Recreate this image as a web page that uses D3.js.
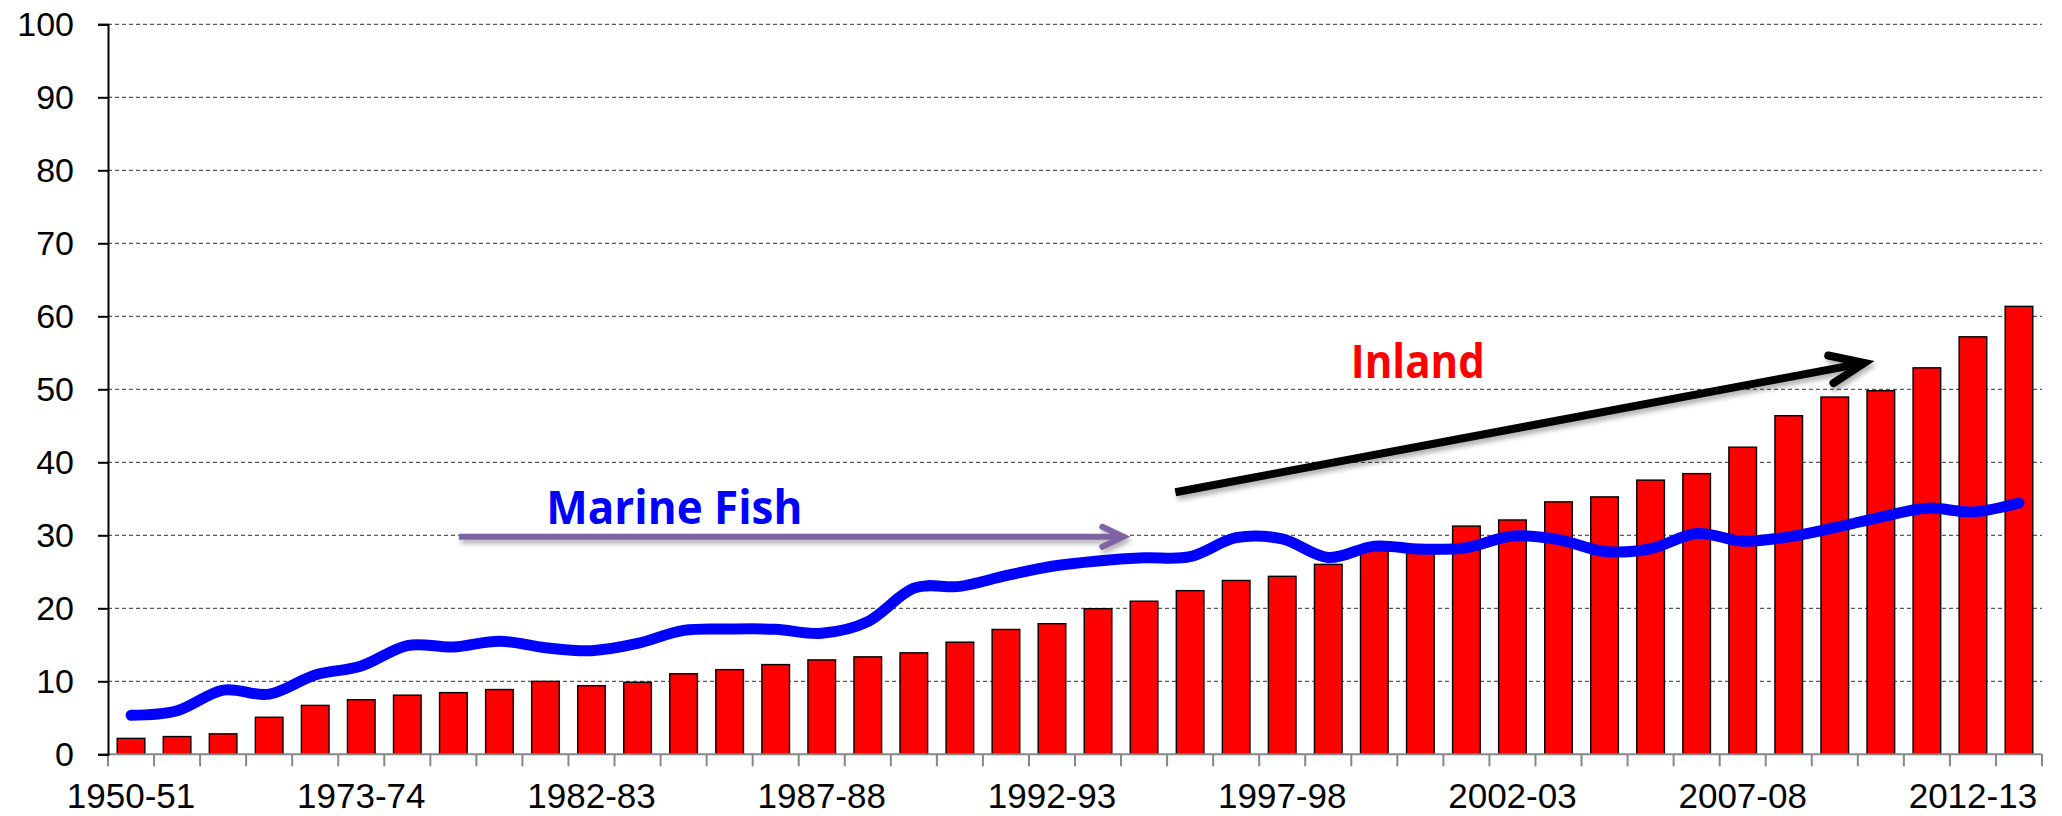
<!DOCTYPE html>
<html>
<head>
<meta charset="utf-8">
<script src="https://cdn.jsdelivr.net/npm/d3@7"></script>
<style>
  html, body { margin: 0; padding: 0; background: #ffffff; }
  #container { width: 2062px; height: 816px; }
</style>
</head>
<body>
<div id="container"></div>
<script>
const chartWidth = 2062
const chartHeight = 816

const GRAPH_ELEMENT_NAME = "container";

// Years (categories)
const years = [
    "1950-51", "1955-56", "1960-61", "1965-66", "1970-71", "1973-74",
    "1978-79", "1979-80", "1980-81", "1981-82", "1982-83", "1983-84",
    "1984-85", "1985-86", "1986-87", "1987-88", "1988-89", "1989-90",
    "1990-91", "1991-92", "1992-93", "1993-94", "1994-95", "1995-96",
    "1996-97", "1997-98", "1998-99", "1999-00", "2000-01", "2001-02",
    "2002-03", "2003-04", "2004-05", "2005-06", "2006-07", "2007-08",
    "2008-09", "2009-10", "2010-11", "2011-12", "2012-13", "2013-14"
];

// Inland production (bars)
const inland = [
    2.18, 2.43, 2.80, 5.07, 6.70, 7.48,
    8.10, 8.45, 8.87, 9.99, 9.40, 9.87,
    11.03, 11.60, 12.29, 12.93, 13.35, 13.90,
    15.36, 17.10, 17.89, 19.95, 20.97, 22.42,
    23.81, 24.38, 26.02, 28.23, 28.45, 31.26,
    32.10, 34.58, 35.26, 37.56, 38.45, 42.07,
    46.38, 48.94, 49.81, 52.94, 57.19, 61.36
];

// Marine fish production (smoothed line)
const marine = [
    5.34, 5.96, 8.80, 8.24, 10.86, 12.10,
    14.90, 14.70, 15.50, 14.60, 14.20, 15.19,
    16.98, 17.16, 17.13, 16.58, 18.17, 22.75,
    23.00, 24.47, 25.76, 26.49, 26.92, 27.07,
    29.67, 29.50, 26.96, 28.52, 28.11, 28.30,
    29.90, 29.41, 27.79, 28.16, 30.24, 29.20,
    29.78, 31.04, 32.50, 33.72, 33.21, 34.43
];

// Y axis ticks and labelled categories
const yTicks = [0, 10, 20, 30, 40, 50, 60, 70, 80, 90, 100];
const xLabels = ["1950-51", "1973-74", "1982-83", "1987-88", "1992-93",
                 "1997-98", "2002-03", "2007-08", "2012-13"];

// Annotations, in (category index, value) units
const marineArrow = [[7.62, 29.8], [22.05, 29.8]];
const inlandArrow = [[23.18, 35.9], [38.14, 53.6]];
const annotationText = [
    { text: "Marine Fish", at: [9.52, 31.5], color: "#0000ff", len: 256 },
    { text: "Inland", at: [26.99, 51.6], color: "#ff0000", len: 134 }
];

function drawChart()
{
    // Set dimensions and margins
    var margin = { top: 24.3, right: 20, bottom: 61.7, left: 108 },
        width = chartWidth - margin.left - margin.right,
        height = chartHeight - margin.top - margin.bottom;

    var root = d3.select("#" + GRAPH_ELEMENT_NAME)
        .append("svg")
        .attr("width", chartWidth)
        .attr("height", chartHeight)
        .style("display", "block");

    // Soft shadow for the hand-drawn arrows
    var defs = root.append("defs");
    defs.append("filter")
        .attr("id", "shadow")
        .attr("x", "-20%").attr("y", "-50%")
        .attr("width", "140%").attr("height", "200%")
        .append("feDropShadow")
        .attr("dx", 2).attr("dy", 4)
        .attr("stdDeviation", 2.5)
        .attr("flood-color", "#000")
        .attr("flood-opacity", 0.3);

    var svg = root.append("g")
        .attr("transform", "translate(" + margin.left + "," + margin.top + ")");

    // Scales
    var x = d3.scaleBand()
        .domain(years)
        .range([0, width])
        .paddingInner(0.4)
        .paddingOuter(0.2);

    var xi = d3.scaleLinear()
        .domain([0, years.length])
        .range([0, width]);

    var y = d3.scaleLinear()
        .domain([0, 100])
        .range([height, 0]);

    // Dashed gridlines
    svg.append("g")
        .selectAll("line")
        .data(yTicks.filter(d => d > 0))
        .join("line")
        .attr("x1", 0)
        .attr("x2", width)
        .attr("y1", d => y(d))
        .attr("y2", d => y(d))
        .attr("stroke", "#595959")
        .attr("stroke-width", 1.3)
        .attr("stroke-dasharray", "4,3");

    // Bars (inland)
    svg.append("g")
        .selectAll("rect")
        .data(inland)
        .join("rect")
        .attr("x", (d, i) => x(years[i]))
        .attr("y", d => y(d))
        .attr("width", x.bandwidth())
        .attr("height", d => height - y(d))
        .attr("fill", "#ff0000")
        .attr("stroke", "#000000")
        .attr("stroke-width", 1.4);

    // X axis (grey, ticks between categories)
    var xAxis = svg.append("g")
        .attr("transform", "translate(0," + height + ")");
    xAxis.append("line")
        .attr("x1", 0).attr("x2", width)
        .attr("y1", 0).attr("y2", 0)
        .attr("stroke", "#868686")
        .attr("stroke-width", 2);
    xAxis.selectAll(".xtick")
        .data(d3.range(years.length + 1))
        .join("line")
        .attr("class", "xtick")
        .attr("x1", d => xi(d)).attr("x2", d => xi(d))
        .attr("y1", 0).attr("y2", 12)
        .attr("stroke", "#868686")
        .attr("stroke-width", 2);
    xAxis.selectAll(".xlabel")
        .data(xLabels)
        .join("text")
        .attr("class", "xlabel")
        .attr("x", d => x(d) + x.bandwidth() / 2)
        .attr("y", 54)
        .attr("text-anchor", "middle")
        .style("font-family", "'Liberation Sans', Arial, sans-serif")
        .style("font-size", "35px")
        .attr("fill", "#000")
        .text(d => d);

    // Y axis
    svg.append("g")
        .call(d3.axisLeft(y).tickValues(yTicks).tickSize(10).tickPadding(24))
        .call(g => g.select(".domain").attr("stroke", "#000").attr("stroke-width", 2))
        .call(g => g.selectAll(".tick line").attr("stroke", "#000").attr("stroke-width", 2))
        .call(g => g.selectAll(".tick text")
            .style("font-family", "'Liberation Sans', Arial, sans-serif")
            .style("font-size", "34px")
            .attr("fill", "#000"));

    // Marine line, smoothed
    svg.append("path")
        .datum(marine)
        .attr("fill", "none")
        .attr("stroke", "#0000ff")
        .attr("stroke-width", 11)
        .attr("stroke-linecap", "round")
        .attr("stroke-linejoin", "round")
        .attr("d", d3.line()
            .x((d, i) => x(years[i]) + x.bandwidth() / 2)
            .y(d => y(d))
            .curve(d3.curveCatmullRom.alpha(0))
        );

    // Arrows
    drawArrow(svg, marineArrow, xi, y, "#8064a2", 6, 21, 10);
    drawArrow(svg, inlandArrow, xi, y, "#000000", 8, 34, 14);

    // Labels
    svg.selectAll(".note")
        .data(annotationText)
        .join("text")
        .attr("class", "note")
        .attr("x", d => xi(d.at[0]))
        .attr("y", d => y(d.at[1]))
        .attr("fill", d => d.color)
        .attr("textLength", d => d.len)
        .attr("lengthAdjust", "spacingAndGlyphs")
        .style("font-family", "'Open Sans', 'Noto Sans', sans-serif")
        .style("font-weight", "bold")
        .style("font-size", "47px")
        .text(d => d.text);
}

function drawArrow(svg, pts, xi, y, color, strokeW, headLen, headHalf)
{
    var x0 = xi(pts[0][0]), y0 = y(pts[0][1]);
    var x1 = xi(pts[1][0]), y1 = y(pts[1][1]);
    var ang = Math.atan2(y1 - y0, x1 - x0);
    var bx = x1 - headLen * Math.cos(ang), by = y1 - headLen * Math.sin(ang);
    var nx = -Math.sin(ang) * headHalf, ny = Math.cos(ang) * headHalf;

    var g = svg.append("g").attr("filter", "url(#shadow)");
    g.append("line")
        .attr("x1", x0).attr("y1", y0)
        .attr("x2", x1 - 2 * Math.cos(ang)).attr("y2", y1 - 2 * Math.sin(ang))
        .attr("stroke", color)
        .attr("stroke-width", strokeW);
    g.append("path")
        .attr("d", "M" + (bx + nx) + "," + (by + ny) + "L" + x1 + "," + y1 + "L" + (bx - nx) + "," + (by - ny))
        .attr("fill", "none")
        .attr("stroke", color)
        .attr("stroke-width", strokeW)
        .attr("stroke-linecap", "round")
        .attr("stroke-linejoin", "miter");
}

drawChart();
</script>
</body>
</html>
